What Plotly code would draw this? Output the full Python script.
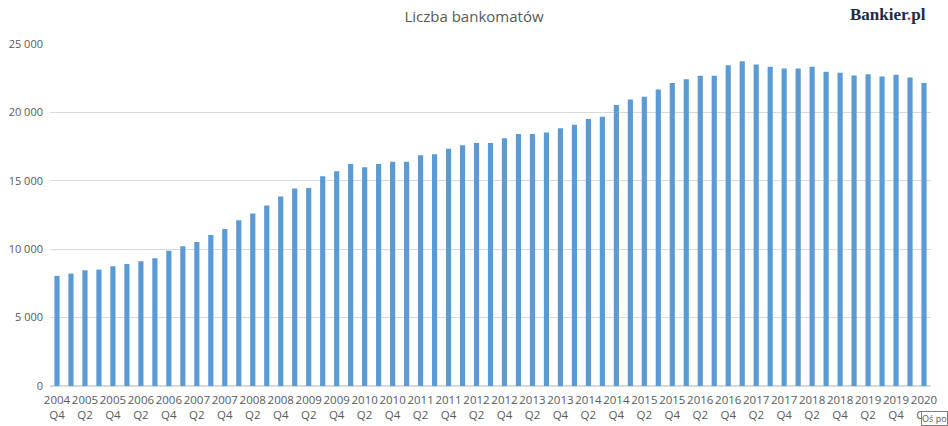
import plotly.graph_objects as go

years = list(range(2004, 2021))
quarters = []
for y in years:
    for q in (1, 2, 3, 4):
        if (y == 2004 and q < 4) or (y == 2020 and q > 2):
            continue
        quarters.append(f"{y} Q{q}")

values = [
    8050, 8215, 8460, 8510, 8755, 8925, 9120, 9340, 9880, 10220,
    10535, 11045, 11485, 12120, 12605, 13190, 13850, 14435, 14480, 15330,
    15700, 16230, 15985, 16230, 16400, 16400, 16865, 16940, 17350, 17600,
    17770, 17770, 18115, 18430, 18430, 18530, 18850, 19095, 19515, 19685,
    20535, 20950, 21145, 21680, 22140, 22430, 22680, 22680, 23450, 23745,
    23505, 23335, 23210, 23210, 23335, 22970, 22900, 22700, 22795, 22630,
    22750, 22555, 22140,
]

tick_vals = quarters[::2]
tick_text = [c.replace(" ", "<br>") for c in tick_vals]

y_ticks = [0, 5000, 10000, 15000, 20000, 25000]

fig = go.Figure(go.Bar(
    x=quarters, y=values,
    marker=dict(color="#5b9bd5", line=dict(width=0)),
))

fig.update_layout(
    width=948, height=426,
    margin=dict(l=50, r=17, t=44, b=40, autoexpand=False),
    paper_bgcolor="white", plot_bgcolor="white",
    separators=", ",
    bargap=0.63,
    showlegend=False,
    font=dict(family="Open Sans", color="#595959", size=11),
    title=dict(text="Liczba bankomatów", x=0.5, xanchor="center",
               y=1 - 17 / 426, yanchor="middle", yref="container",
               font=dict(family="Open Sans", size=15, color="#595959")),
    xaxis=dict(
        type="category", tickmode="array", tickvals=tick_vals, ticktext=tick_text,
        tickangle=0, showgrid=False, showline=True, linecolor="#d9d9d9",
        tickfont=dict(size=11.5, color="#595959"), automargin=False,
        ticklabelstandoff=3,
    ),
    yaxis=dict(
        range=[0, 25000], tickvals=y_ticks, tickformat=",d",
        showgrid=True, gridcolor="#d9d9d9", zeroline=True, zerolinecolor="#d9d9d9",
        tickfont=dict(size=11, color="#595959"), ticklabelstandoff=6,
        automargin=False,
    ),
    annotations=[
        dict(text="<b>Bankier<span style='color:#d0312d'>.</span>pl</b>", xref="paper", yref="paper",
             x=1.0, y=1.0, xanchor="right", yanchor="bottom", yshift=18, xshift=-3, showarrow=False,
             font=dict(family="Liberation Serif", size=17, color="#1f2a44")),
        dict(text="Oś po", xref="paper", yref="paper", x=1.0, y=0, xanchor="right", yanchor="bottom",
             xshift=17, yshift=-40, showarrow=False, bordercolor="#7f7f7f", borderwidth=1,
             borderpad=0, bgcolor="white", font=dict(size=9, color="#595959")),
    ],
)

fig.write_html("out.html", config={"displayModeBar": False},
               post_script="document.body.style.margin='0';")
